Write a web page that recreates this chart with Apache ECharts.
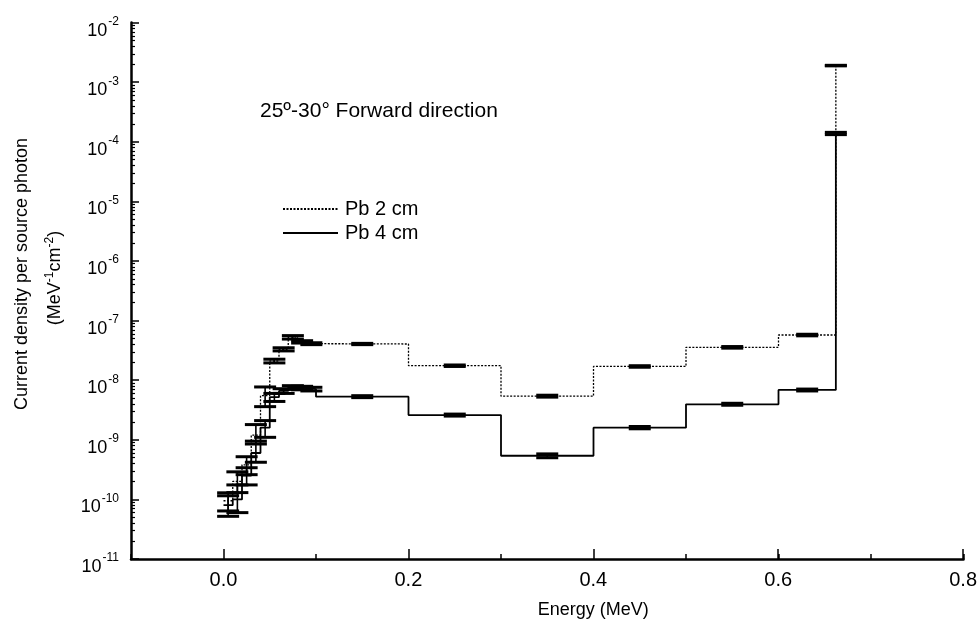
<!DOCTYPE html>
<html>
<head>
<meta charset="utf-8">
<script src="https://cdn.jsdelivr.net/npm/echarts@6/dist/echarts.min.js"></script>
<style>html,body{margin:0;padding:0;background:#fff}#c{width:980px;height:633px}</style>
</head>
<body>
<div id="c"></div>
<script>
// ---- data ----
const binEdges = [0.00,0.01,0.02,0.03,0.04,0.05,0.06,0.07,0.08,0.09,0.10,0.20,0.30,0.40,0.50,0.60,0.662];
const pb2Values = [9.5e-11,2.0e-10,3.8e-10,1.2e-9,5.5e-9,2.1e-8,3.3e-8,5.3e-8,4.4e-8,4.1e-8,4.05e-8,1.75e-8,5.4e-9,1.7e-8,3.56e-8,5.73e-8];
const pb2Low    = [6.4e-11,1.3e-10,2.6e-10,8.5e-10,3.6e-9,1.95e-8,3.1e-8,4.9e-8,4.2e-8,3.95e-8,3.95e-8,1.7e-8,5.2e-9,1.65e-8,3.45e-8,5.55e-8];
const pb2High   = [1.29e-10,2.9e-10,5.2e-10,1.8e-9,7.7e-9,2.25e-8,3.5e-8,5.6e-8,4.6e-8,4.25e-8,4.15e-8,1.8e-8,5.6e-9,1.75e-8,3.67e-8,5.9e-8];
const pb4Values = [8.0e-11,1.0e-10,2.5e-10,6.0e-10,1.6e-9,5.2e-9,6.6e-9,7.6e-9,7.4e-9,7.1e-9,5.3e-9,2.6e-9,5.4e-10,1.6e-9,3.94e-9,6.86e-9];
const pb4Low    = [5.2e-11,6.0e-11,1.75e-10,4.2e-10,1.1e-9,4.4e-9,6.0e-9,7.0e-9,6.9e-9,6.6e-9,5.1e-9,2.5e-9,5.0e-10,1.53e-9,3.8e-9,6.6e-9];
const pb4High   = [1.15e-10,1.75e-10,3.4e-10,9.5e-10,2.1e-9,6.0e-9,7.2e-9,8.1e-9,7.9e-9,7.6e-9,5.5e-9,2.7e-9,5.8e-10,1.67e-9,4.1e-9,7.1e-9];
const peakEnergy = 0.662;
const pb2Peak = [1.88e-3, 1.92e-3];
const pb4Peak = [1.32e-4, 1.44e-4];
const xTickLabels = ['0.0','0.2','0.4','0.6','0.8'];
const seriesNames = ['Pb 2 cm','Pb 4 cm'];

// ---- build step lines and error bars ----
function stepLine(values, peak) {
  const pts = [];
  for (let i = 0; i < values.length; i++) {
    pts.push([binEdges[i], values[i]]);
    pts.push([binEdges[i+1], values[i]]);
  }
  pts.push([peakEnergy, Math.sqrt(peak[0]*peak[1])]);
  return pts;
}
function errBars(lo, hi, peak) {
  const out = [];
  for (let i = 0; i < lo.length; i++) {
    out.push([(binEdges[i]+binEdges[i+1])/2, lo[i], hi[i]]);
  }
  out.push([peakEnergy, peak[0], peak[1]]);
  return out;
}
const FONT = '"Liberation Sans", Arial, sans-serif';
function renderErr(params, api) {
  const x = api.value(0);
  const p1 = api.coord([x, api.value(2)]);
  const p2 = api.coord([x, api.value(1)]);
  const w = 11;
  const st = {stroke: '#000', lineWidth: 1.6};
  const cap = {stroke: '#000', lineWidth: 3};
  return {type: 'group', children: [
    {type: 'line', shape: {x1: p1[0], y1: p1[1], x2: p2[0], y2: p2[1]}, style: st},
    {type: 'line', shape: {x1: p1[0]-w, y1: p1[1], x2: p1[0]+w, y2: p1[1]}, style: cap},
    {type: 'line', shape: {x1: p2[0]-w, y1: p2[1], x2: p2[0]+w, y2: p2[1]}, style: cap}
  ]};
}

const chart = echarts.init(document.getElementById('c'), null, {renderer: 'canvas'});
const gridBox = {top: 22.6, bottom: 74, right: 16.5};
chart.setOption({
  animation: false,
  backgroundColor: '#fff',
  textStyle: {fontFamily: FONT, color: '#000'},
  grid: [
    Object.assign({left: 131}, gridBox),
    Object.assign({left: 223.5}, gridBox)
  ],
  xAxis: [
    {type: 'value', gridIndex: 0, min: -0.1, max: 0.8, interval: 0.1,
     axisLine: {show: true, onZero: false, lineStyle: {color: '#000', width: 2.5}},
     axisTick: {show: true, inside: true, length: 5, lineStyle: {color: '#000', width: 1.5}},
     axisLabel: {show: false}, splitLine: {show: false}},
    {type: 'value', gridIndex: 1, min: 0, max: 0.8, interval: 0.2,
     axisLine: {show: false, onZero: false},
     axisTick: {show: true, inside: true, length: 10, lineStyle: {color: '#000', width: 1.5}},
     axisLabel: {show: true, margin: 11, fontSize: 20, color: '#000', fontFamily: FONT,
       formatter: (v) => xTickLabels[Math.round(v/0.2)]},
     name: 'Energy (MeV)', nameLocation: 'middle', nameGap: 42,
     nameTextStyle: {fontSize: 18, color: '#000', fontFamily: FONT},
     splitLine: {show: false}}
  ],
  yAxis: [
    {type: 'log', gridIndex: 0, logBase: 10, min: 1e-11, max: 1e-2, splitNumber: 9,
     axisLine: {show: true, onZero: false, lineStyle: {color: '#000', width: 2.5}},
     axisTick: {show: true, inside: true, length: 8, lineStyle: {color: '#000', width: 1.5}},
     minorTick: {show: true, splitNumber: 9, length: 4, lineStyle: {color: '#000', width: 1.2}},
     axisLabel: {margin: 12, color: '#000', fontFamily: FONT, padding: [10, 0, 0, 0],
       formatter: (v) => '{b|10}{s|' + Math.round(Math.log10(v)) + '}',
       rich: {b: {fontSize: 18, fontFamily: FONT, color: '#000', lineHeight: 24, verticalAlign: 'bottom'},
              s: {fontSize: 12, fontFamily: FONT, color: '#000', lineHeight: 24, verticalAlign: 'top', padding: [0,0,0,1]}}},
     splitLine: {show: false}},
    {type: 'log', gridIndex: 1, logBase: 10, min: 1e-11, max: 1e-2, show: false,
     axisLine: {show: false, onZero: false}}
  ],
  legend: {
    orient: 'vertical', left: 277, top: 194, itemWidth: 55, itemHeight: 14, itemGap: 4,
    data: seriesNames,
    itemStyle: {opacity: 0},
    textStyle: {fontSize: 20, color: '#000', fontFamily: FONT, padding: [0,0,0,2]}
  },
  graphic: [
    {type: 'text', left: 260, top: 101, style: {text: '25º-30° Forward direction', fontSize: 21, fontFamily: FONT, fill: '#000'}},
    {type: 'text', x: 22, y: 274, rotation: Math.PI/2, style: {text: 'Current density per source photon', fontSize: 18, fontFamily: FONT, fill: '#000', align: 'center', verticalAlign: 'middle'}},
    {type: 'text', x: 55, y: 278, rotation: Math.PI/2,
     style: {text: '(MeV{s|-1}cm{s|-2})', fontSize: 18, fontFamily: FONT, fill: '#000', align: 'center', verticalAlign: 'middle',
       rich: {s: {fontSize: 12, fontFamily: FONT, fill: '#000', verticalAlign: 'top', lineHeight: 22}}}}
  ],
  series: [
    {name: seriesNames[0], type: 'line', xAxisIndex: 0, yAxisIndex: 0, symbol: 'none',
     data: stepLine(pb2Values, pb2Peak), lineStyle: {color: '#000', width: 1.3, type: [2, 1.5]}, itemStyle: {color: '#000'}, z: 3},
    {name: seriesNames[1], type: 'line', xAxisIndex: 0, yAxisIndex: 0, symbol: 'none',
     data: stepLine(pb4Values, pb4Peak), lineStyle: {color: '#000', width: 1.8, type: 'solid'}, itemStyle: {color: '#000'}, z: 4},
    {name: 'err2', type: 'custom', xAxisIndex: 0, yAxisIndex: 0, renderItem: renderErr,
     data: errBars(pb2Low, pb2High, pb2Peak), z: 5},
    {name: 'err4', type: 'custom', xAxisIndex: 0, yAxisIndex: 0, renderItem: renderErr,
     data: errBars(pb4Low, pb4High, pb4Peak), z: 5}
  ]
});
</script>
</body>
</html>
